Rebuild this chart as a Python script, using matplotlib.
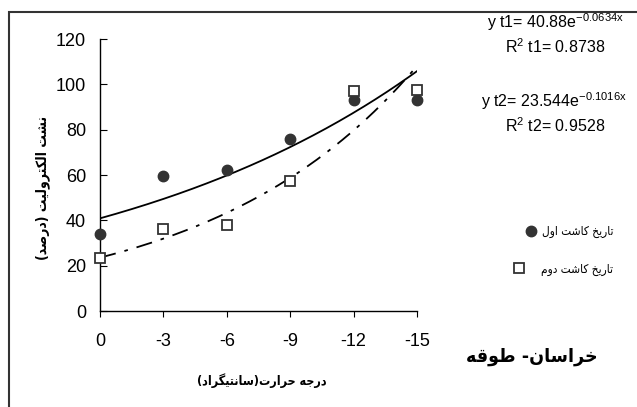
import numpy as np
import matplotlib
matplotlib.use("Agg")
import matplotlib.pyplot as plt
from matplotlib.patches import Rectangle

# data
temps = [0, -3, -6, -9, -12, -15]
tick_labels = ["0", "-3", "-6", "-9", "-12", "-15"]
leak_t1 = [34, 59.5, 62, 75.7, 93.3, 93.3]
leak_t2 = [23.2, 36, 38, 57.2, 97, 97.5]

# exponential trend lines as printed on the chart
a_t1, b_t1, r2_t1 = 40.88, -0.0634, 0.8738
a_t2, b_t2, r2_t2 = 23.544, -0.1016, 0.9528

ylabel = "نشت الکترولیت (درصد)"
xlabel = "درجه حرارت(سانتیگراد)"
title = "خراسان- طوقه"
leg_t1 = "تاریخ کاشت اول"
leg_t2 = "تاریخ کاشت دوم"

# matplotlib has no arabic shaping, so pick presentation forms by hand
# (isolated, final, initial, medial)
FORMS = {
    "ا": ("\uFE8D", "\uFE8E", None, None),
    "د": ("\uFEA9", "\uFEAA", None, None),
    "ر": ("\uFEAD", "\uFEAE", None, None),
    "و": ("\uFEED", "\uFEEE", None, None),
    "ت": ("\uFE95", "\uFE96", "\uFE97", "\uFE98"),
    "ن": ("\uFEE5", "\uFEE6", "\uFEE7", "\uFEE8"),
    "ش": ("\uFEB5", "\uFEB6", "\uFEB7", "\uFEB8"),
    "س": ("\uFEB1", "\uFEB2", "\uFEB3", "\uFEB4"),
    "ص": ("\uFEB9", "\uFEBA", "\uFEBB", "\uFEBC"),
    "ج": ("\uFE9D", "\uFE9E", "\uFE9F", "\uFEA0"),
    "ح": ("\uFEA1", "\uFEA2", "\uFEA3", "\uFEA4"),
    "خ": ("\uFEA5", "\uFEA6", "\uFEA7", "\uFEA8"),
    "ط": ("\uFEC1", "\uFEC2", "\uFEC3", "\uFEC4"),
    "ق": ("\uFED5", "\uFED6", "\uFED7", "\uFED8"),
    "م": ("\uFEE1", "\uFEE2", "\uFEE3", "\uFEE4"),
    "ل": ("\uFEDD", "\uFEDE", "\uFEDF", "\uFEE0"),
    "ه": ("\uFEE9", "\uFEEA", "\uFEEB", "\uFEEC"),
    "ک": ("\uFB8E", "\uFB8F", "\uFB90", "\uFB91"),
    "گ": ("\uFB92", "\uFB93", "\uFB94", "\uFB95"),
    "ی": ("\uFBFC", "\uFBFD", "\uFBFE", "\uFBFF"),
}
MIRROR = {"(": ")", ")": "("}


def shape(text):
    """Join letters and flip to visual (right-to-left) order."""
    out = []
    for i, ch in enumerate(text):
        if ch not in FORMS:
            out.append(ch)
            continue
        prev = text[i - 1] if i > 0 else ""
        nxt = text[i + 1] if i + 1 < len(text) else ""
        join_prev = prev in FORMS and FORMS[prev][2] is not None
        join_next = FORMS[ch][2] is not None and nxt in FORMS
        if join_prev and join_next:
            out.append(FORMS[ch][3])
        elif join_prev:
            out.append(FORMS[ch][1])
        elif join_next:
            out.append(FORMS[ch][2])
        else:
            out.append(FORMS[ch][0])
    return "".join(MIRROR.get(c, c) for c in reversed(out))


plt.rcParams["font.family"] = ["Liberation Sans", "DejaVu Sans"]
plt.rcParams["mathtext.default"] = "regular"
ar = dict(family=["DejaVu Sans"], fontstretch="condensed")

W, H = 637, 407
fig = plt.figure(figsize=(W / 100, H / 100), dpi=100)
ax = fig.add_axes([100 / W, 1 - 311 / H, 317 / W, 272 / H])

xs = np.linspace(0, -15, 200)
ax.plot(xs, a_t1 * np.exp(b_t1 * xs), color="black", lw=1.3)
ax.plot(xs, a_t2 * np.exp(b_t2 * xs), color="black", lw=1.3,
        linestyle=(0, (9, 5, 2, 5)))
ax.plot(temps, leak_t1, "o", ms=7.5, color="#333333", clip_on=False, zorder=5)
ax.plot(temps, leak_t2, "s", ms=7, mfc="white", mec="#333333", mew=1.3,
        clip_on=False, zorder=5)

ax.set_xlim(0, -15)
ax.set_ylim(0, 120)
ax.set_xticks(temps)
ax.set_xticklabels(tick_labels)
ax.set_yticks(range(0, 121, 20))
for s in ["top", "right"]:
    ax.spines[s].set_visible(False)
for s in ["left", "bottom"]:
    ax.spines[s].set_linewidth(1.0)
ax.tick_params(axis="y", direction="in", length=5, labelsize=13, pad=10)
ax.tick_params(axis="x", direction="out", length=4, labelsize=13, pad=12)

# outer chart frame (runs off the bottom and right edges)
fig.patches.append(Rectangle((9 / W, -0.1), 1.2, 1 - 12 / H + 0.1,
                             transform=fig.transFigure, fill=False,
                             lw=1.5, ec="#333333"))


def fx(px):
    return px / W


def fy(py):
    return 1 - py / H


fig.text(fx(555), fy(22), "y t1= %.2fe$^{%.4fx}$" % (a_t1, b_t1),
         ha="center", va="center", fontsize=11.5)
fig.text(fx(555), fy(47), "R$^{2}$ t1= %.4f" % r2_t1,
         ha="center", va="center", fontsize=11.5)
fig.text(fx(554), fy(101), "y t2= %.3fe$^{%.4fx}$" % (a_t2, b_t2),
         ha="center", va="center", fontsize=11.5)
fig.text(fx(555), fy(126), "R$^{2}$ t2= %.4f" % r2_t2,
         ha="center", va="center", fontsize=11.5)

# legend drawn by hand to the right of the plot
fig.text(fx(613), fy(231), shape(leg_t1), ha="right", va="center",
         fontsize=8.5, **ar)
fig.text(fx(613), fy(270), shape(leg_t2), ha="right", va="center",
         fontsize=8.5, **ar)
fig.lines.append(plt.Line2D([fx(531)], [fy(231)], marker="o", ms=7.5,
                            color="#333333", transform=fig.transFigure))
fig.lines.append(plt.Line2D([fx(519)], [fy(268)], marker="s", ms=6.5,
                            mfc="white", mec="#333333", mew=1.3,
                            transform=fig.transFigure))

fig.text(fx(532), fy(357), shape(title), ha="center", va="center",
         fontsize=14, fontweight="bold", **ar)
fig.text(fx(262), fy(381), shape(xlabel), ha="center", va="center",
         fontsize=9, fontweight="bold", **ar)
fig.text(fx(43), fy(188), shape(ylabel), ha="center", va="center",
         rotation=90, fontsize=10, fontweight="bold", **ar)

fig.savefig("out.png", dpi=100, facecolor="white")
